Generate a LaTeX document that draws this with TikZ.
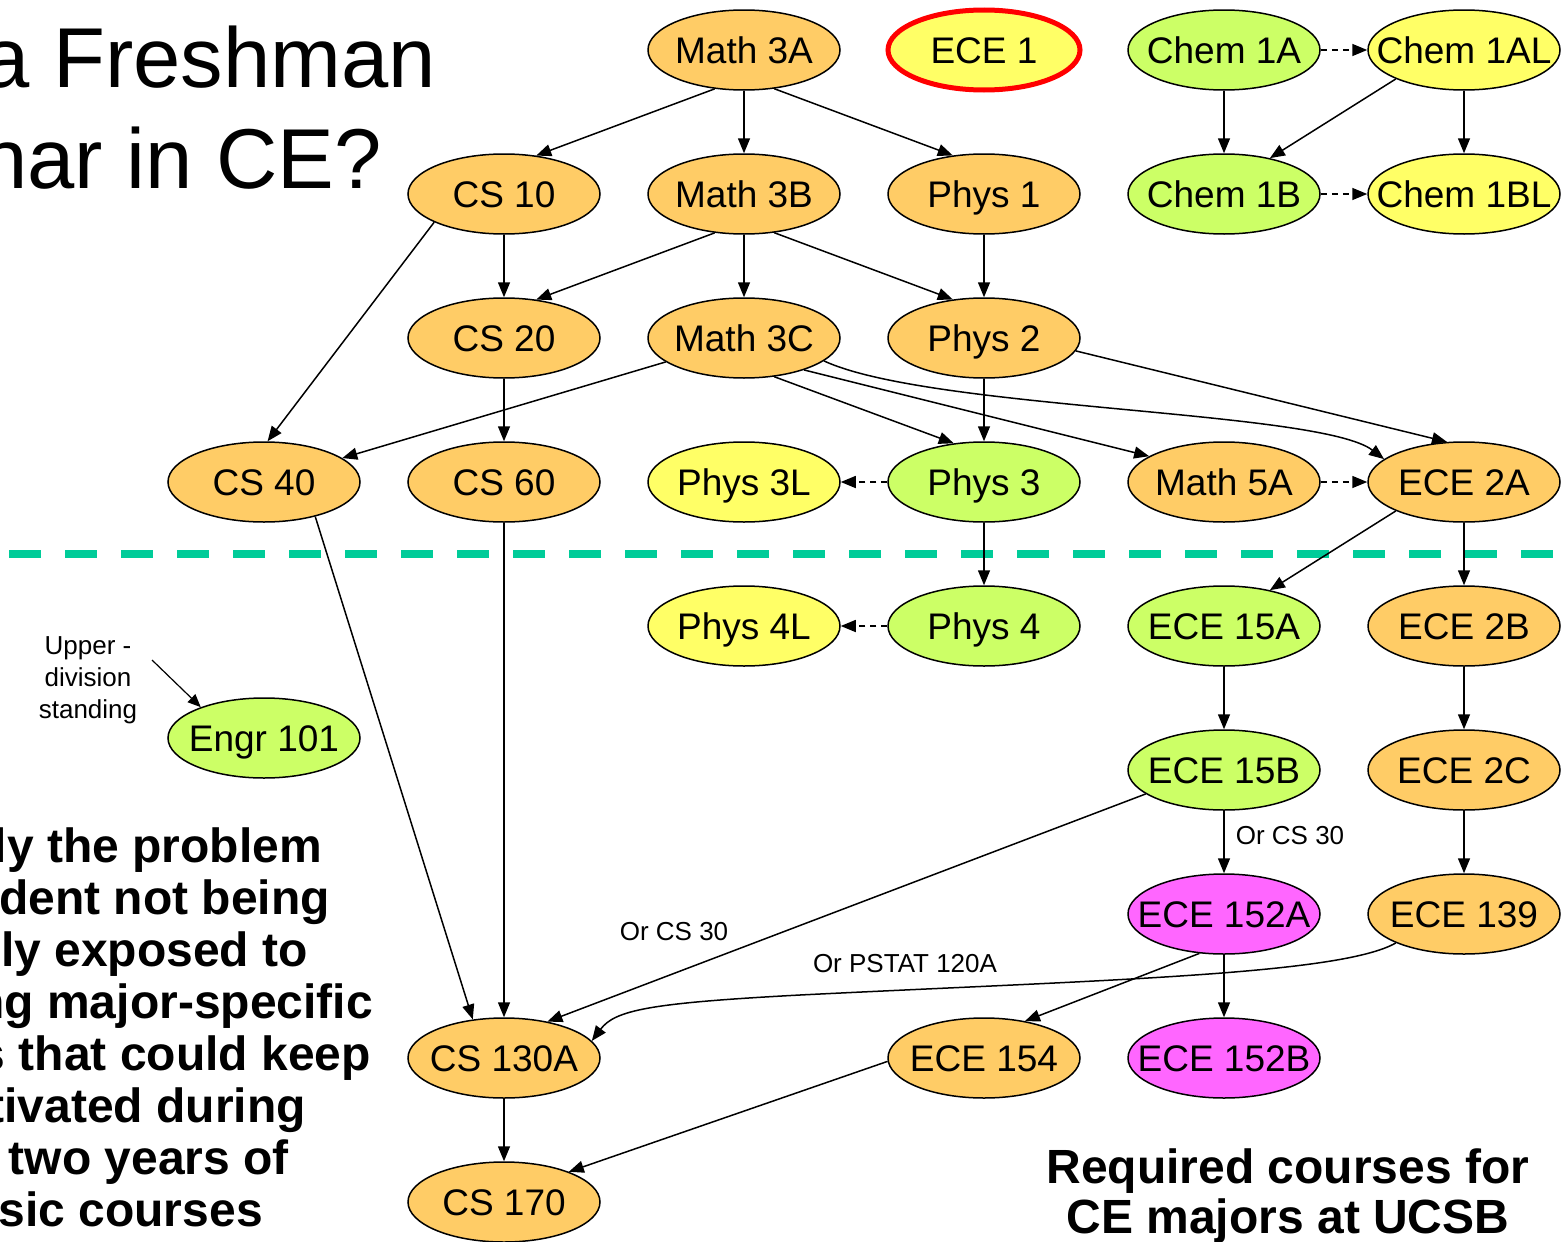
\documentclass[tikz,border=0pt]{standalone}
\usepackage{fontspec}
\setmainfont{Liberation Sans}
\usetikzlibrary{shapes.geometric,arrows.meta}
\definecolor{corange}{HTML}{FFCC66}
\definecolor{cgreen}{HTML}{CCFF66}
\definecolor{cyellow}{HTML}{FFFF66}
\definecolor{cmag}{HTML}{FF66FF}
\definecolor{cteal}{HTML}{00CC99}
\newcommand\Ctxt[1]{\makebox[0pt][c]{#1}}
\tikzset{
  course/.style={ellipse, draw=black, line width=1.5pt, minimum width=192pt, minimum height=80pt,
    inner sep=0pt, text height=26.5pt, text depth=0pt, font=\fontsize{37}{44}\selectfont},
  ora/.style={course, fill=corange},
  grn/.style={course, fill=cgreen},
  yel/.style={course, fill=cyellow},
  mag/.style={course, fill=cmag},
  req/.style={-{Triangle[length=15pt,width=12pt]}, line width=1.5pt},
  coreq/.style={req, dash pattern=on 6pt off 5pt},
  lbl/.style={font=\fontsize{26}{32}\selectfont, inner sep=0pt},
  title/.style={font=\fontsize{85}{100}\selectfont, inner sep=0pt, anchor=base east},
  bodytxt/.style={font=\fontsize{48}{52}\selectfont\bfseries, inner sep=0pt, anchor=base east},
  foot/.style={font=\fontsize{48}{50}\selectfont\bfseries, inner sep=0pt, anchor=base},
}
\begin{document}
\begin{tikzpicture}[x=1pt,y=-1pt]
\useasboundingbox (0,0) rectangle (1561,1242);
\clip (0,0) rectangle (1561,1242);
\fill[white] (0,0) rectangle (1561,1242);

% title and texts
\node[title] (t1) at (436,87) {a Freshman};
\node[title] (t2) at (382,188) {nar in CE?};
\node[bodytxt] (b1) at (322,862) {ly the problem};
\node[bodytxt] (b2) at (330,914) {dent not being};
\node[bodytxt] (b3) at (308,966) {ly exposed to};
\node[bodytxt] (b4) at (373,1018) {ng major-specific};
\node[bodytxt] (b5) at (371,1070) {s that could keep};
\node[bodytxt] (b6) at (306,1122) {tivated during};
\node[bodytxt] (b7) at (289,1174) {two years of};
\node[bodytxt] (b8) at (263,1226) {sic courses};
\node[foot] (f1) at (1288,1183) {Required courses for};
\node[foot] (f2) at (1288,1233) {CE majors at UCSB};

% dashed divider
\coordinate (divL) at (9,554);
\coordinate (divR) at (1561,554);
\draw[cteal, line width=8pt, dash pattern=on 32pt off 24pt] (divL) -- (divR);

% nodes
\node[ora] (m3a) at (744,50) {\Ctxt{Math 3A}};
\node[yel, draw=red, line width=5pt] (ece1) at (984,50) {\Ctxt{ECE 1}};
\node[grn] (c1a) at (1224,50) {\Ctxt{Chem 1A}};
\node[yel] (c1al) at (1464,50) {\Ctxt{Chem 1AL}};
\node[ora] (cs10) at (504,194) {\Ctxt{CS 10}};
\node[ora] (m3b) at (744,194) {\Ctxt{Math 3B}};
\node[ora] (p1) at (984,194) {\Ctxt{Phys 1}};
\node[grn] (c1b) at (1224,194) {\Ctxt{Chem 1B}};
\node[yel] (c1bl) at (1464,194) {\Ctxt{Chem 1BL}};
\node[ora] (cs20) at (504,338) {\Ctxt{CS 20}};
\node[ora] (m3c) at (744,338) {\Ctxt{Math 3C}};
\node[ora] (p2) at (984,338) {\Ctxt{Phys 2}};
\node[ora] (cs40) at (264,482) {\Ctxt{CS 40}};
\node[ora] (cs60) at (504,482) {\Ctxt{CS 60}};
\node[yel] (p3l) at (744,482) {\Ctxt{Phys 3L}};
\node[grn] (p3) at (984,482) {\Ctxt{Phys 3}};
\node[ora] (m5a) at (1224,482) {\Ctxt{Math 5A}};
\node[ora] (e2a) at (1464,482) {\Ctxt{ECE 2A}};
\node[yel] (p4l) at (744,626) {\Ctxt{Phys 4L}};
\node[grn] (p4) at (984,626) {\Ctxt{Phys 4}};
\node[grn] (e15a) at (1224,626) {\Ctxt{ECE 15A}};
\node[ora] (e2b) at (1464,626) {\Ctxt{ECE 2B}};
\node[grn] (engr) at (264,738) {\Ctxt{Engr 101}};
\node[grn] (e15b) at (1224,770) {\Ctxt{ECE 15B}};
\node[ora] (e2c) at (1464,770) {\Ctxt{ECE 2C}};
\node[mag] (e152a) at (1224,914) {\Ctxt{ECE 152A}};
\node[ora] (e139) at (1464,914) {\Ctxt{ECE 139}};
\node[ora] (cs130a) at (504,1058) {\Ctxt{CS 130A}};
\node[ora] (e154) at (984,1058) {\Ctxt{ECE 154}};
\node[mag] (e152b) at (1224,1058) {\Ctxt{ECE 152B}};
\node[ora] (cs170) at (504,1202) {\Ctxt{CS 170}};

% labels
\node[lbl, align=center] (upper) at (88,680) {Upper -\\division\\standing};
\coordinate (uppertail) at (152,660);
\node[lbl] (or1) at (1290,836) {Or CS 30};
\node[lbl] (or2) at (674,932) {Or CS 30};
\node[lbl] (or3) at (905,964) {Or PSTAT 120A};

% edges
\draw[req] (m3a.233) -- (cs10.50.5);
\draw[req] (m3a.south) -- (m3b.north);
\draw[req] (m3a.308) -- (p1.129);
\draw[req] (c1a.south) -- (c1b.north);
\draw[coreq] (c1a.east) -- (c1al.west);
\draw[req] (c1al.203) -- (c1b.38);
\draw[req] (c1al.south) -- (c1bl.north);
\draw[coreq] (c1b.east) -- (c1bl.west);
\draw[req] (cs10.south) -- (cs20.north);
\draw[req] (cs10.202) -- (cs40.85);
\draw[req] (m3b.233) -- (cs20.50.5);
\draw[req] (m3b.south) -- (m3c.north);
\draw[req] (m3b.308) -- (p2.129);
\draw[req] (p1.south) -- (p2.north);
\draw[req] (cs20.south) -- (cs60.north);
\draw[req] (m3c.197) -- (cs40.17);
\draw[req] (m3c.308) -- (p3.128);
\draw[req] (m3c.332) -- (m5a.161);
\draw[req] (m3c.344) .. controls (930,410) and (1320,410) .. (e2a.164);
\draw[req] (p2.south) -- (p3.north);
\draw[req] (p2.352.6) -- (e2a.113);
\draw[coreq] (p3.west) -- (p3l.east);
\draw[coreq] (m5a.east) -- (e2a.west);
\draw[req] (p3.south) -- (p4.north);
\draw[coreq] (p4.west) -- (p4l.east);
\draw[req] (e2a.203) -- (e15a.38);
\draw[req] (e2a.south) -- (e2b.north);
\draw[req] (e15a.south) -- (e15b.north);
\draw[req] (e2b.south) -- (e2c.north);
\draw[req] (e15b.south) -- (e152a.north);
\draw[req] (e2c.south) -- (e139.north);
\draw[req] (e15b.197.6) -- (cs130a.40.6);
\draw[req] (cs40.326.6) -- (cs130a.129);
\draw[req] (cs60.south) -- (cs130a.north);
\draw[req] (e139.203) .. controls (1340,975) and (1100,980) .. (800,995)
   .. controls (650,1003) and (615,1010) .. (cs130a.11);
\draw[req] (e152a.238) -- (e154.42.4);
\draw[req] (e152a.south) -- (e152b.north);
\draw[req] (cs130a.south) -- (cs170.north);
\draw[req] (e154.182.4) -- (cs170.25);
\draw[-{Triangle[length=13pt,width=11pt]}, line width=1.2pt] (uppertail) -- (engr.154);
\end{tikzpicture}
\end{document}
